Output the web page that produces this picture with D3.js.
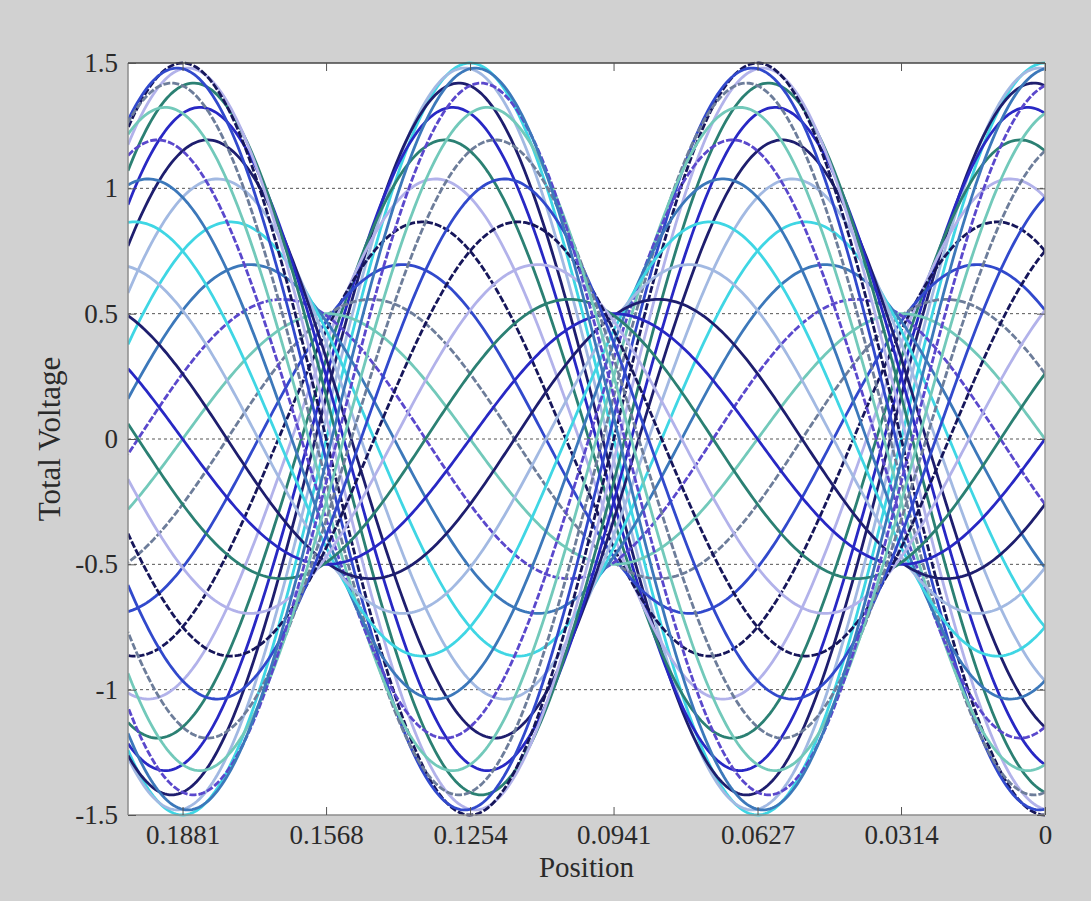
<!DOCTYPE html>
<html>
<head>
<meta charset="utf-8">
<script src="https://cdn.jsdelivr.net/npm/d3@7"></script>
<style>
  body { margin: 0; background: #d1d1d1; }
  svg { display: block; }
</style>
</head>
<body>
<div class="graph"></div>
<script>
// Wave parameters: envelope 1.5 / 0.5, ticks every quarter wavelength
var forwardAmp = 1.0;
var reflectedAmp = 0.5;
var wavelength = 0.1254;
var positionRange = [0, 0.2];

// time instants (phase, degrees) of the plotted curves
var phases = [0, 10, 20, 30, 40, 50, 60, 70, 80, 90, 100, 110,
              120, 130, 140, 150, 160, 170, 180, 190, 200, 210, 220, 230,
              240, 250, 260, 270, 280, 290, 300, 310, 320, 330, 340, 350];

var xTicks = [0.1881, 0.1568, 0.1254, 0.0941, 0.0627, 0.0314, 0];
var xTickLabels = ["0.1881", "0.1568", "0.1254", "0.0941", "0.0627", "0.0314", "0"];
var yTicks = [-1.5, -1, -0.5, 0, 0.5, 1, 1.5];
var yTickLabels = ["-1.5", "-1", "-0.5", "0", "0.5", "1", "1.5"];
var gridLines = [-1, -0.5, 0, 0.5, 1];

var palette = ["#3fd6e4", "#a2b9e2", "#1e1e6e", "#2828c4", "#2b8073", "#b2b2ea",
               "#16165a", "#3149cc", "#6d7d9a", "#72c9ba", "#5a48cc", "#3c78ba"];

// Configuration
var width = 1091;
var height = 901;
var padding = {left: 128, right: 46, top: 63, bottom: 86};
var font = "'Liberation Serif', 'Times New Roman', serif";

var svg = d3.select(".graph").append("svg")
    .attr("width", width)
    .attr("height", height);

svg.append("rect")
    .attr("width", width).attr("height", height)
    .attr("fill", "#d1d1d1");

// Scales (position axis runs right to left)
var x = d3.scaleLinear()
    .domain([positionRange[1], positionRange[0]])
    .range([padding.left, width - padding.right]);
var y = d3.scaleLinear()
    .domain([-1.5, 1.5])
    .range([height - padding.bottom, padding.top]);

var plotW = width - padding.left - padding.right;
var plotH = height - padding.top - padding.bottom;

svg.append("rect")
    .attr("x", padding.left).attr("y", padding.top)
    .attr("width", plotW).attr("height", plotH)
    .attr("fill", "#ffffff");

svg.append("defs").append("clipPath").attr("id", "clip")
  .append("rect")
    .attr("x", padding.left).attr("y", padding.top - 2)
    .attr("width", plotW).attr("height", plotH + 4);

// Grid
svg.append("g").selectAll("line").data(gridLines).enter().append("line")
    .attr("x1", padding.left).attr("x2", width - padding.right)
    .attr("y1", function (d) { return y(d); })
    .attr("y2", function (d) { return y(d); })
    .attr("stroke", "#555")
    .attr("stroke-width", 1)
    .attr("stroke-dasharray", "3,3");

// Curves
var beta = 2 * Math.PI / wavelength;
var zs = d3.range(0, 401).map(function (i) {
    return positionRange[0] + (positionRange[1] - positionRange[0]) * i / 400;
});

function voltage(phaseDeg, z) {
    var p = phaseDeg * Math.PI / 180;
    return forwardAmp * Math.cos(p - beta * z) + reflectedAmp * Math.cos(p + beta * z);
}

var line = d3.line()
    .x(function (d) { return x(d[0]); })
    .y(function (d) { return y(d[1]); });

svg.append("g").attr("clip-path", "url(#clip)")
  .selectAll("path").data(phases).enter().append("path")
    .attr("d", function (ph) {
        return line(zs.map(function (z) { return [z, voltage(ph, z)]; }));
    })
    .attr("fill", "none")
    .attr("stroke", function (ph, i) { return palette[i % palette.length]; })
    .attr("stroke-width", 2.8)
    .attr("stroke-dasharray", function (ph, i) {
        var c = i % palette.length;
        return (c === 6 || c === 10 || c === 8) ? "7,2" : null;
    });

// Axes box
var box = svg.append("g");
box.append("line")
    .attr("x1", padding.left).attr("x2", width - padding.right)
    .attr("y1", padding.top).attr("y2", padding.top)
    .attr("stroke", "#444").attr("stroke-width", 1.5);
box.append("line")
    .attr("x1", padding.left).attr("x2", width - padding.right)
    .attr("y1", height - padding.bottom).attr("y2", height - padding.bottom)
    .attr("stroke", "#8c8c8c").attr("stroke-width", 1.5);
box.append("line")
    .attr("x1", padding.left).attr("x2", padding.left)
    .attr("y1", padding.top).attr("y2", height - padding.bottom)
    .attr("stroke", "#8c8c8c").attr("stroke-width", 1.5);
box.append("line")
    .attr("x1", width - padding.right).attr("x2", width - padding.right)
    .attr("y1", padding.top).attr("y2", height - padding.bottom)
    .attr("stroke", "#9a9a9a").attr("stroke-width", 1.5);

// Axes (inward ticks)
var xAxis = d3.axisBottom(x).tickValues(xTicks).tickSizeInner(-8).tickSizeOuter(0)
    .tickPadding(10)
    .tickFormat(function (d, i) { return xTickLabels[i]; });
svg.append("g")
    .attr("transform", "translate(0," + (height - padding.bottom) + ")")
    .call(xAxis);
svg.append("g")
    .attr("transform", "translate(0," + padding.top + ")")
    .call(d3.axisTop(x).tickValues(xTicks).tickSizeInner(-8).tickSizeOuter(0).tickFormat(""));

var yAxis = d3.axisLeft(y).tickValues(yTicks).tickSizeInner(-8).tickSizeOuter(0)
    .tickPadding(10)
    .tickFormat(function (d, i) { return yTickLabels[i]; });
svg.append("g")
    .attr("transform", "translate(" + padding.left + ",0)")
    .call(yAxis);
svg.append("g")
    .attr("transform", "translate(" + (width - padding.right) + ",0)")
    .call(d3.axisRight(y).tickValues(yTicks).tickSizeInner(-8).tickSizeOuter(0).tickFormat(""));

svg.selectAll(".domain").remove();
svg.selectAll(".tick line").attr("stroke", "#555").attr("stroke-width", 1);
svg.selectAll(".tick text")
    .attr("font-family", font)
    .attr("font-size", 27)
    .attr("fill", "#2a2a2a");

// Axis titles
svg.append("text")
    .attr("x", (padding.left + width - padding.right) / 2)
    .attr("y", 877)
    .attr("text-anchor", "middle")
    .attr("font-family", font)
    .attr("font-size", 29)
    .attr("fill", "#2a2a2a")
    .text("Position");

svg.append("text")
    .attr("transform", "translate(60," + ((padding.top + height - padding.bottom) / 2) + ") rotate(-90)")
    .attr("text-anchor", "middle")
    .attr("font-family", font)
    .attr("font-size", 31)
    .attr("fill", "#2a2a2a")
    .text("Total Voltage");
</script>
</body>
</html>
